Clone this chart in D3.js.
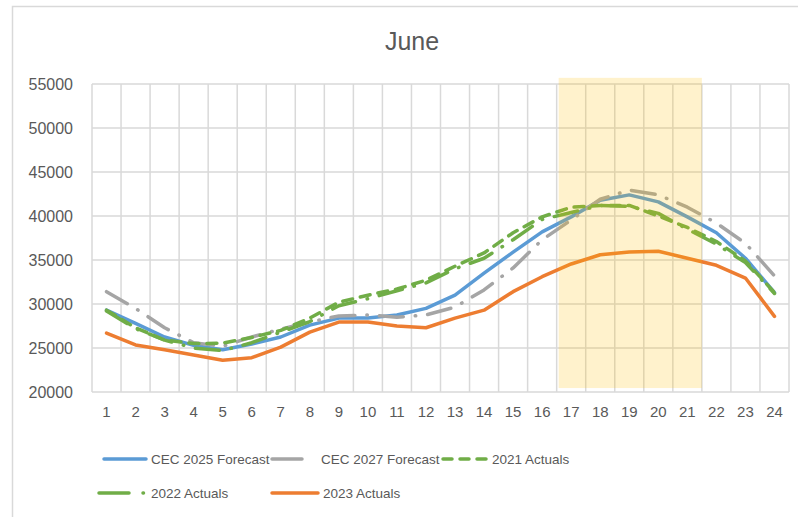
<!DOCTYPE html>
<html>
<head>
<meta charset="utf-8">
<script src="https://cdn.jsdelivr.net/npm/d3@7"></script>
<style>
  body { margin: 0; background: #fff; }
  text { font-family: "Liberation Sans", Arial, sans-serif; fill: #595959; }
</style>
</head>
<body>
<div id="chart"></div>
<script>
// Hours of the day (category axis)
const hours = d3.range(1, 25).map(String);

// Hourly load values
const cec2025 = [29300, 27800, 26250, 25300, 24800, 25450, 26250, 27600, 28400, 28400, 28750, 29500,
                 31000, 33500, 35900, 38200, 39900, 41800, 42400, 41600, 39900, 38100, 35200, 31300];
const cec2027 = [31400, 29500, 27300, 25600, 25200, 26250, 27150, 27950, 28650, 28750, 28500, 28750,
                 29650, 31600, 34100, 37300, 39550, 41900, 42950, 42400, 41000, 39200, 36900, 33200];
const act2021 = [29300, 27300, 25900, 25500, 25550, 26200, 27000, 28400, 30200, 31000, 31700, 32700,
                 34300, 35800, 38100, 39900, 41000, 41200, 41200, 40000, 38700, 37100, 34900, 31300];
const act2022 = [29200, 27200, 25900, 25000, 24700, 25600, 26800, 28000, 29800, 30600, 31500, 32400,
                 34000, 35200, 37300, 39600, 40400, 41200, 41100, 40300, 38500, 36800, 34700, 31200];
const act2023 = [26700, 25350, 24800, 24200, 23600, 23900, 25100, 26800, 27950, 27950, 27500, 27300,
                 28400, 29300, 31400, 33100, 34550, 35600, 35900, 36000, 35200, 34400, 32950, 28600];

const yTicks = [20000, 25000, 30000, 35000, 40000, 45000, 50000, 55000];
const highlightHours = ["17", "21"];

const series = [
  {name: "CEC 2025 Forecast", values: cec2025, color: "#5b9bd5", dash: null},
  {name: "CEC 2027 Forecast", values: cec2027, color: "#a5a5a5", dash: "24,12,0.5,12"},
  {name: "2021 Actuals", values: act2021, color: "#70ad47", dash: "10,8"},
  {name: "2022 Actuals", values: act2022, color: "#70ad47", dash: "24,12,0.5,12"},
  {name: "2023 Actuals", values: act2023, color: "#ed7d31", dash: null}
];

const width = 798;
const height = 517;
const plot = {left: 92, right: 789, top: 84, bottom: 392};

const svg = d3.select("#chart")
  .append("svg")
  .attr("width", width)
  .attr("height", height);

// Chart frame
svg.append("rect")
  .attr("x", 12.5).attr("y", 6.5)
  .attr("width", 820).attr("height", 540)
  .attr("fill", "none")
  .attr("stroke", "#d9d9d9")
  .attr("stroke-width", 1.5);

const x = d3.scaleBand()
  .domain(hours)
  .range([plot.left, plot.right]);

const y = d3.scaleLinear()
  .domain([20000, 55000])
  .range([plot.bottom, plot.top]);

// Horizontal gridlines
svg.append("g")
  .selectAll("line")
  .data(yTicks)
  .join("line")
  .attr("x1", plot.left).attr("x2", plot.right)
  .attr("y1", d => y(d)).attr("y2", d => y(d))
  .attr("stroke", "#d9d9d9")
  .attr("stroke-width", 1.5);

// Vertical gridlines at band edges
const edges = hours.map(h => x(h)).concat([plot.right]);
svg.append("g")
  .selectAll("line")
  .data(edges)
  .join("line")
  .attr("x1", d => d).attr("x2", d => d)
  .attr("y1", plot.top).attr("y2", plot.bottom)
  .attr("stroke", "#d9d9d9")
  .attr("stroke-width", 1.5);

// Y tick labels
svg.append("g")
  .selectAll("text")
  .data(yTicks)
  .join("text")
  .attr("x", 73)
  .attr("y", d => y(d) + 6)
  .attr("text-anchor", "end")
  .attr("font-size", 16)
  .text(d => d);

// X tick labels
svg.append("g")
  .selectAll("text")
  .data(hours)
  .join("text")
  .attr("x", d => x(d) + x.bandwidth() / 2)
  .attr("y", 417)
  .attr("text-anchor", "middle")
  .attr("font-size", 15)
  .text(d => d);

// Series lines
const line = d3.line()
  .x((d, i) => x(hours[i]) + x.bandwidth() / 2)
  .y(d => y(d));

svg.append("g")
  .selectAll("path")
  .data(series)
  .join("path")
  .attr("d", d => line(d.values))
  .attr("fill", "none")
  .attr("stroke", d => d.color)
  .attr("stroke-width", 3.5)
  .attr("stroke-linejoin", "round")
  .attr("stroke-linecap", "round")
  .attr("stroke-dasharray", d => d.dash);

// Peak-hours highlight drawn over the lines
svg.append("rect")
  .attr("x", x(highlightHours[0]) + 2)
  .attr("y", y(55700))
  .attr("width", x(highlightHours[1]) + x.bandwidth() - x(highlightHours[0]) - 2)
  .attr("height", y(20450) - y(55700))
  .attr("fill", "#ffc000")
  .attr("fill-opacity", 0.2);

// Title
svg.append("text")
  .attr("x", 412)
  .attr("y", 50)
  .attr("text-anchor", "middle")
  .attr("font-size", 25)
  .text("June");

// Legend
const legendPos = [
  {x: 104, y: 459, len: 42},
  {x: 272, y: 459, len: 44},
  {x: 443, y: 459, len: 44},
  {x: 99, y: 493, len: 47},
  {x: 272, y: 493, len: 46}
];

const legend = svg.append("g")
  .selectAll("g")
  .data(series)
  .join("g")
  .attr("transform", (d, i) => `translate(${legendPos[i].x},${legendPos[i].y})`);

legend.append("path")
  .attr("d", (d, i) => `M0,0H${legendPos[i].len}`)
  .attr("stroke", d => d.color)
  .attr("stroke-width", 3.5)
  .attr("stroke-linecap", "round")
  .attr("stroke-dasharray", d => d.dash ? (d.dash === "10,8" ? "9,8" : "30,14,0.5,14") : null);

legend.append("text")
  .attr("x", (d, i) => legendPos[i].len + 5)
  .attr("y", 5)
  .attr("font-size", 13.5)
  .text(d => d.name);
</script>
</body>
</html>
